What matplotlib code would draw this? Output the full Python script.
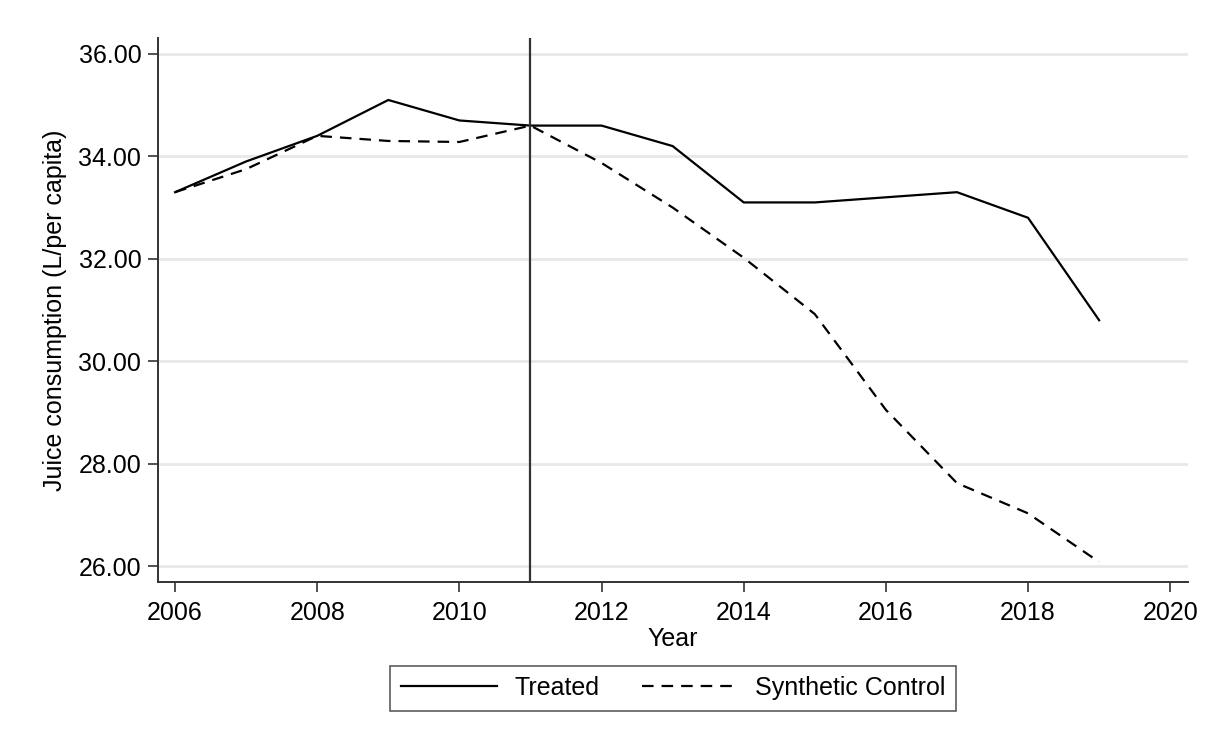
import matplotlib
matplotlib.use("Agg")
import matplotlib.pyplot as plt

plt.rcParams['font.family'] = ['Liberation Sans', 'DejaVu Sans']

years = [2006, 2007, 2008, 2009, 2010, 2011, 2012, 2013, 2014, 2015, 2016, 2017, 2018, 2019]
treated = [33.3, 33.9, 34.4, 35.1, 34.7, 34.6, 34.6, 34.2, 33.1, 33.1, 33.2, 33.3, 32.8, 30.8]
synthetic = [33.3, 33.75, 34.4, 34.3, 34.28, 34.6, 33.87, 33.0, 32.02, 30.92, 29.05, 27.62, 27.03, 26.08]
treat_year = 2011
xticks = [2006, 2008, 2010, 2012, 2014, 2016, 2018, 2020]
yticks = [26, 28, 30, 32, 34, 36]

W, H = 1208, 740
FS = 18
fig = plt.figure(figsize=(W / 100, H / 100), dpi=100)
ax = fig.add_axes([158 / W, 1 - 582 / H, (1188 - 158) / W, (582 - 38) / H])

# light horizontal grid at each y tick
for y in yticks:
    ax.axhline(y, color='#e8e8e8', lw=2, zorder=0)

ax.plot(years, treated, color='black', lw=1.6, label='Treated')
ax.plot(years, synthetic, color='black', lw=1.6, ls=(0, (5.2, 3.6)), label='Synthetic Control')
ax.axvline(treat_year, color='#333333', lw=1.6)

ax.set_xlim(2005.76, 2020.25)
ax.set_ylim(25.69, 36.31)
ax.set_xticks(xticks)
ax.set_yticks(yticks)
ax.set_yticklabels([f'{v:.2f}' for v in yticks])
ax.tick_params(labelsize=FS, length=7, width=1.2, color='#333333')
ax.tick_params(axis='x', pad=7)
ax.tick_params(axis='y', pad=5)

for side in ('top', 'right'):
    ax.spines[side].set_visible(False)
for side in ('left', 'bottom'):
    ax.spines[side].set_color('#333333')
    ax.spines[side].set_linewidth(1.4)

ax.set_xlabel('Year', fontsize=FS, labelpad=1)
ax.set_ylabel('Juice consumption (L/per capita)', fontsize=FS, labelpad=8)

leg = ax.legend(loc='center', bbox_to_anchor=(0.5, (1 - 688 / H - (1 - 582 / H)) / ((582 - 38) / H)),
                ncol=2, fontsize=FS, frameon=True, fancybox=False, handlelength=3.85,
                columnspacing=1.7, borderpad=0.42, handletextpad=0.68)
leg.get_frame().set_edgecolor('#333333')
leg.get_frame().set_linewidth(1.2)

fig.savefig('out.png', dpi=100, facecolor='white')
